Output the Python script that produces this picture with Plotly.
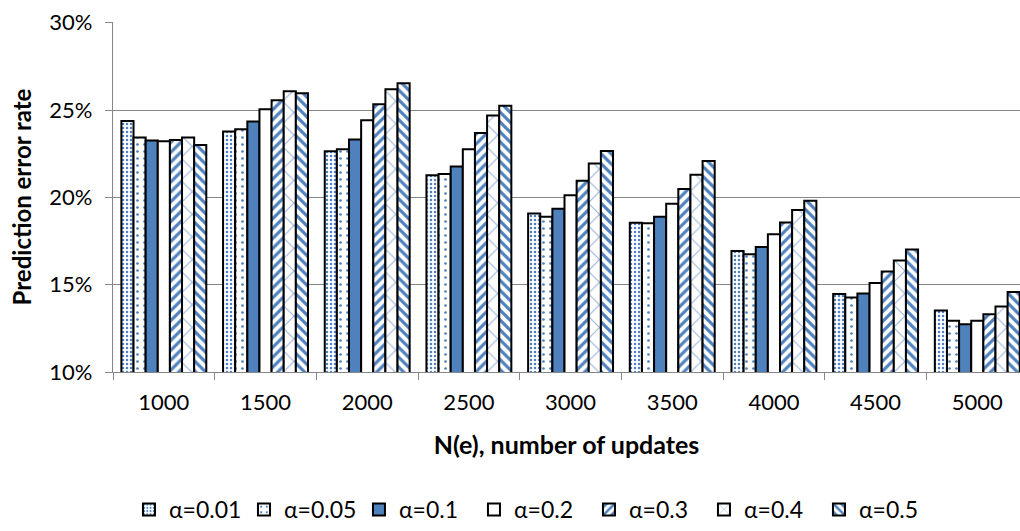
import plotly.graph_objects as go

categories = ["1000", "1500", "2000", "2500", "3000", "3500", "4000", "4500", "5000"]
series_names = ["α=0.01", "α=0.05", "α=0.1", "α=0.2", "α=0.3", "α=0.4", "α=0.5"]

a001 = [24.37, 23.77, 22.64, 21.27, 19.08, 18.54, 16.93, 14.46, 13.52]
a005 = [23.43, 23.90, 22.75, 21.33, 18.89, 18.52, 16.74, 14.27, 12.93]
a01 = [23.25, 24.35, 23.31, 21.77, 19.35, 18.89, 17.16, 14.50, 12.73]
a02 = [23.21, 25.04, 24.42, 22.75, 20.12, 19.64, 17.89, 15.10, 12.93]
a03 = [23.29, 25.56, 25.33, 23.69, 20.95, 20.48, 18.56, 15.76, 13.31]
a04 = [23.43, 26.08, 26.19, 24.69, 21.94, 21.29, 19.27, 16.39, 13.75]
a05 = [23.00, 25.96, 26.54, 25.25, 22.65, 22.08, 19.81, 17.02, 14.58]

series_values = [a001, a005, a01, a02, a03, a04, a05]
y_ticks = [0.10, 0.15, 0.20, 0.25, 0.30]

blue = "#4F81BD"
# (fill colour, pattern shape, pattern colour, pattern size, solidity)
styles = [
    ("white", ".", blue, 4, 0.3),
    ("white", ".", blue, 7, 0.12),
    (blue, "", blue, 8, 0.3),
    ("white", "", blue, 8, 0.3),
    ("white", "/", blue, 7, 0.45),
    ("white", "x", "#9DB6DA", 16, 0.14),
    ("white", "\\", blue, 7, 0.45),
]

fig = go.Figure()
for name, vals, (fill, shape, fg, size, solid) in zip(series_names, series_values, styles):
    fig.add_trace(go.Bar(
        x=categories,
        y=[v / 100 for v in vals],
        name=name,
        marker=dict(
            color=fill,
            line=dict(color="black", width=2),
            pattern=dict(shape=shape, fgcolor=fg, bgcolor="white", fgopacity=1,
                         size=size, solidity=solid, fillmode="replace"),
        ),
    ))

fig.update_layout(
    width=1020, height=531,
    margin=dict(l=113, r=0, t=22, b=159),
    paper_bgcolor="white", plot_bgcolor="white",
    barmode="group", bargap=0.165, bargroupgap=0,
    font=dict(family="Lato, Calibri, sans-serif", size=22, color="black"),
    showlegend=True,
    legend=dict(orientation="h", x=0.0176, xanchor="left",
                yref="container", y=0, yanchor="bottom",
                font=dict(size=23), itemwidth=30, entrywidth=70, traceorder="normal"),
)

fig.update_xaxes(
    type="category", range=[-0.5, 8.42], automargin=False,
    showline=True, linecolor="#868686", linewidth=1.3,
    ticks="outside", tickson="boundaries", ticklen=7, tickcolor="#868686",
    tickfont=dict(size=22), ticklabelstandoff=10,
    title=dict(text="<b>N(e), number of updates</b>", font=dict(size=25), standoff=22),
    showgrid=False,
)
fig.update_yaxes(
    range=[0.10, 0.3004], tickvals=y_ticks, tickformat=".0%", automargin=False,
    ticklabeloverflow="allow", ticklabelstandoff=8,
    showline=True, linecolor="#868686", linewidth=1.3,
    ticks="outside", ticklen=7, tickcolor="#868686",
    tickfont=dict(size=22),
    gridcolor="#868686", gridwidth=1.3,
    title=dict(text="<b>Prediction error rate</b>", font=dict(size=24), standoff=10),
    zeroline=False,
)

# drop the default page margin so the figure fills the window exactly
fig.write_html("out.html", config={"displayModeBar": False},
               post_script="document.body.style.margin='0';document.body.style.overflow='hidden';")
